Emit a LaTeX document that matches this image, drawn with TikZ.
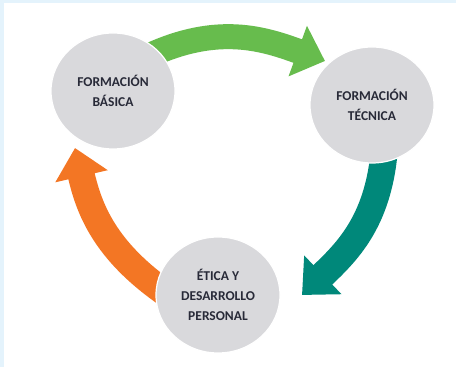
\documentclass[tikz,border=0pt]{standalone}
\usepackage{fontspec}
\setmainfont{Carlito}
\usetikzlibrary{positioning,calc,arrows.meta,shapes.geometric,backgrounds}

\definecolor{stagegray}{RGB}{217,217,220}
\definecolor{stagetext}{RGB}{40,42,56}
\definecolor{flowgreen}{RGB}{103,188,77}
\definecolor{flowteal}{RGB}{0,136,122}
\definecolor{floworange}{RGB}{243,118,36}
\definecolor{frameblue}{RGB}{228,243,252}

\begin{document}
\begin{tikzpicture}[x=1pt, y=1pt,
    stage/.style = {ellipse, fill=stagegray, draw=white, line width=1.2pt,
        minimum width=124pt, minimum height=116pt, inner sep=0pt,
        text=stagetext, align=center,
        font=\fontsize{13.5}{20}\selectfont\bfseries},
    flow/.style = {line width=27pt, shorten <=-12pt,
        -{Triangle[length=29pt, width=52pt]}}]

        \useasboundingbox (0,0) rectangle (456,367);

        %stages
        \node[stage] (FB) at (113,276) {FORMACIÓN\\BÁSICA};
        \node[stage] (FT) at (372,262) {FORMACIÓN\\TÉCNICA};
        \node[stage] (ED) at (218,72) {ÉTICA Y\\DESARROLLO\\PERSONAL};

        %arrow tips
        \coordinate (tFT) at ($(FT) + (-47,44)$);
        \coordinate (tED) at ($(ED) + (84,0)$);
        \coordinate (tFB) at ($(FB) + (-38,-57)$);

        \begin{pgfonlayer}{background}
            %frame
            \fill[frameblue] (0,0) rectangle (456,367);
            \fill[white] (4,0) rectangle (456,364);

            %cycle
            \draw[flow, flowgreen, line width=25pt] (FB.41) to[out=25, in=160] (tFT);
            \draw[flow, flowteal] (FT.-79) to[out=265, in=44] (tED);
            \draw[flow, floworange] (ED.172) to[out=145, in=-77] (tFB);
        \end{pgfonlayer}

\end{tikzpicture}
\end{document}
